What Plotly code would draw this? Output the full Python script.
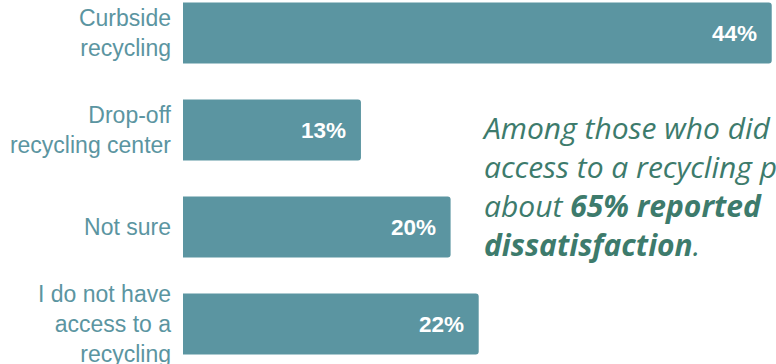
import plotly.graph_objects as go

categories = ["Curbside<br>recycling", "Drop-off<br>recycling center", "Not sure",
              "I do not have<br>access to a<br>recycling"]
values = [44, 13.3, 20, 22.1]
value_labels = ["44%", "13%", "20%", "22%"]
note_lines = [
    "Among those who did not have",
    "access to a recycling program,",
    "about <b>65% reported</b>",
    "<b>dissatisfaction</b>.",
]

BAR = "#5b95a1"
NOTE = "#3d7b6c"

fig = go.Figure()
fig.add_trace(go.Bar(
    x=values, y=categories, orientation="h",
    marker=dict(color=BAR, line=dict(width=0)),
    hoverinfo="skip",
))

for v, c, t in zip(values, categories, value_labels):
    fig.add_annotation(x=v, y=c, xref="x", yref="y", text=t, showarrow=False,
                       xanchor="right", yanchor="middle", xshift=-13,
                       font=dict(family="Liberation Sans, Arial", size=22.5, color="white", weight="bold"))

fig.add_annotation(
    xref="paper", yref="paper", x=(480 - 183) / 593, y=1 - 105 / 364,
    xanchor="left", yanchor="top", align="left", showarrow=False,
    text="<i>" + "<br>".join(note_lines) + "</i>",
    font=dict(family="Open Sans", size=30, color=NOTE),
)

fig.update_layout(
    width=776, height=364,
    margin=dict(l=183, r=0, t=0, b=0, autoexpand=False),
    paper_bgcolor="white", plot_bgcolor="white",
    bargap=0.37, barcornerradius=3,
    showlegend=False,
    xaxis=dict(range=[0, 593 / 13.38], visible=False, fixedrange=True, automargin=False),
    yaxis=dict(range=[(364 - 33) / 97, -33 / 97], showgrid=False, zeroline=False,
               showline=False, ticks="", ticklabelstandoff=11, automargin=False,
               tickfont=dict(family="Liberation Sans, Arial", size=23, color=BAR)),
)

fig.write_html("out.html")
